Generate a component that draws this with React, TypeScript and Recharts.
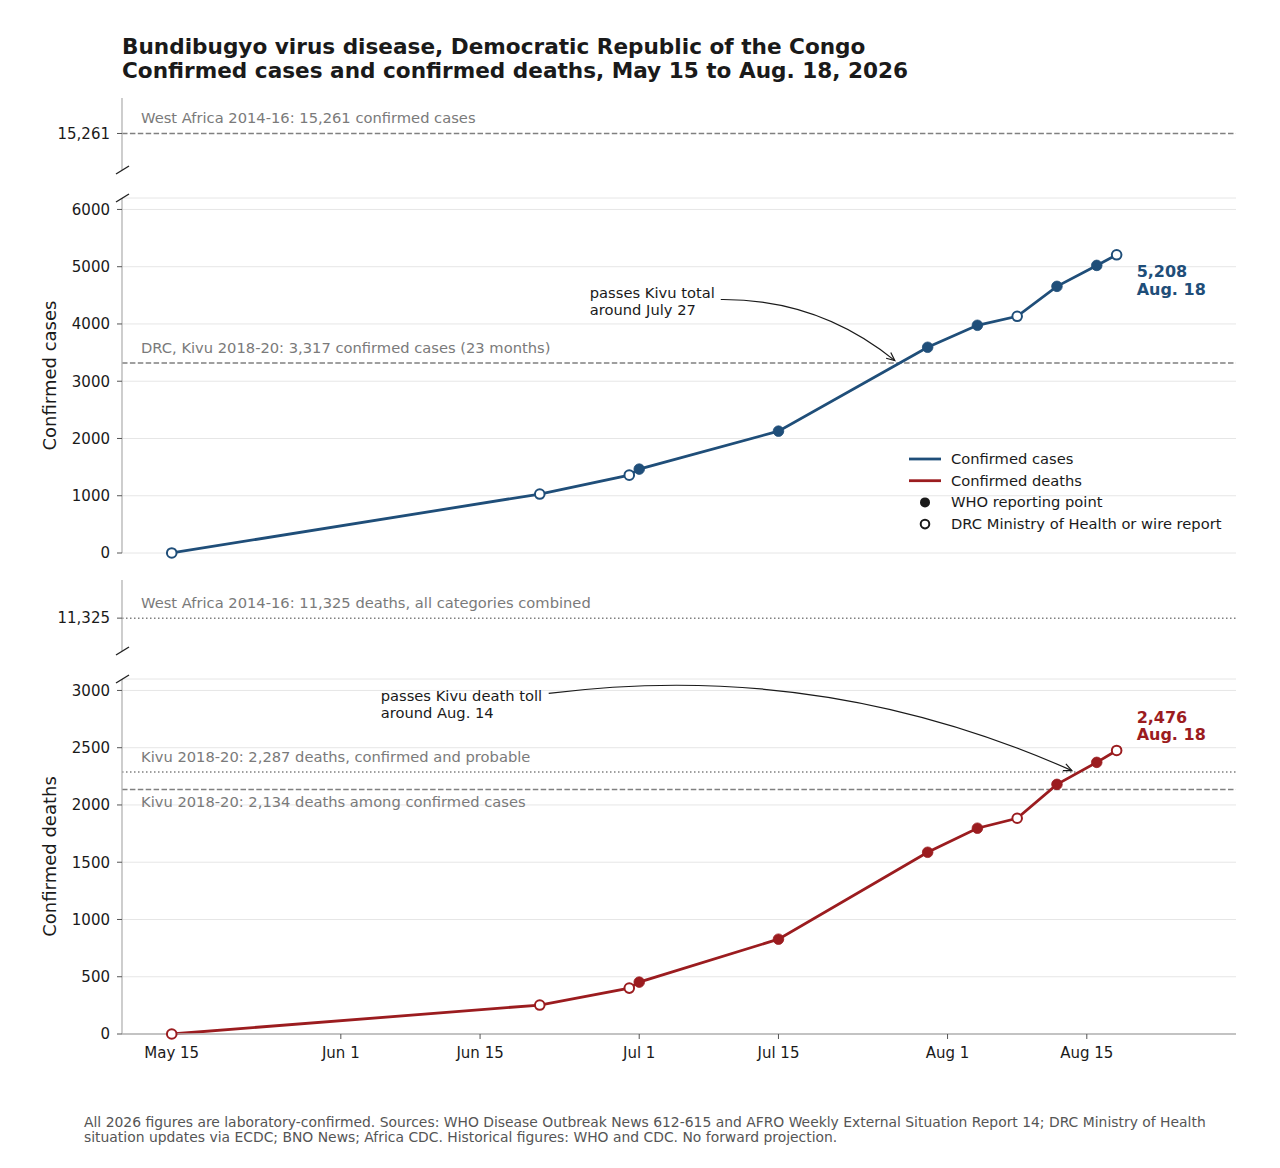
import React from 'react';
import {
  LineChart,
  Line,
  XAxis,
  YAxis,
  CartesianGrid,
  ReferenceLine,
  ReferenceDot,
  Legend,
} from 'recharts';

// ---------- data ----------
const DAYS = [0, 37, 46, 47, 61, 76, 81, 85, 89, 93, 95]; // days since May 15
const CASES = [1, 1030, 1360, 1465, 2128, 3593, 3977, 4134, 4657, 5023, 5208];
const DEATHS = [0, 253, 401, 453, 828, 1587, 1797, 1884, 2180, 2372, 2476];
const SOURCE = ['DRC', 'DRC', 'DRC', 'WHO', 'WHO', 'WHO', 'WHO', 'DRC', 'WHO', 'WHO', 'DRC'];
const END_DATE_LABEL = 'Aug. 18';

const X_DOMAIN = [-5, 107];
const X_TICKS = [0, 17, 31, 47, 61, 78, 92];
const X_TICK_LABELS = ['May 15', 'Jun 1', 'Jun 15', 'Jul 1', 'Jul 15', 'Aug 1', 'Aug 15'];

const CASE_DOMAIN = [0, 6200];
const CASE_TICKS = [0, 1000, 2000, 3000, 4000, 5000, 6000];
const DEATH_DOMAIN = [0, 3100];
const DEATH_TICKS = [0, 500, 1000, 1500, 2000, 2500, 3000];
const CASE_STRIP_DOMAIN = [14500, 16000];
const DEATH_STRIP_DOMAIN = [10700, 12050];

const WEST_AFRICA_CASES = 15261;
const KIVU_CASES = 3317;
const WEST_AFRICA_DEATHS = 11325;
const KIVU_DEATHS_ALL = 2287;
const KIVU_DEATHS_CONFIRMED = 2134;

// annotation anchors (data coordinates)
const CASE_ARROW = [{ x: 55.2, y: 4427 }, { x: 72.7, y: 3360 }];
const DEATH_ARROW = [{ x: 37.9, y: 2974 }, { x: 90.5, y: 2300 }];

const LEGEND_ITEMS = [
  { label: 'Confirmed cases', kind: 'line', color: '#1f4e79' },
  { label: 'Confirmed deaths', kind: 'line', color: '#9b1c1f' },
  { label: 'WHO reporting point', kind: 'filled', color: '#1a1a1a' },
  { label: 'DRC Ministry of Health or wire report', kind: 'open', color: '#1a1a1a' },
];

const ROWS = DAYS.map((d, i) => ({ day: d, cases: CASES[i], deaths: DEATHS[i], src: SOURCE[i] }));

// ---------- style ----------
const FONT = '"DejaVu Sans", Verdana, sans-serif';
const BLUE = '#1f4e79';
const RED = '#9b1c1f';
const GRAY = '#7a7a7a';
const REFLINE = '#808080';
const SPINE = '#b3b3b3';
const GRID = '#e6e6e6';
const INK = '#1a1a1a';
const W = 1280;
const MARGIN_R = 44;
const YAXIS_W = 122;
const NOTE_SIZE = 14.7;

const fmt = (v: number) => v.toLocaleString('en-US');
const tickStyle = { fontSize: 15, fill: INK, fontFamily: FONT };

const refLabel = (text: string, below = false) => (props: any) => {
  const vb = props.viewBox || {};
  return (
    <text x={vb.x + 19} y={vb.y + (below ? 17.5 : -10)} fill={GRAY} fontSize={NOTE_SIZE} fontFamily={FONT}>
      {text}
    </text>
  );
};

const yLabel = (text: string) => (props: any) => {
  const vb = props.viewBox || {};
  const x = vb.x + 56;
  const y = vb.y + vb.height / 2;
  return (
    <text x={x} y={y} transform={`rotate(-90 ${x} ${y})`} textAnchor="middle" fontSize={18} fill={INK} fontFamily={FONT}>
      {text}
    </text>
  );
};

const BreakMark = (props: any) => {
  const { cx, cy } = props;
  if (cx == null || cy == null) return <g />;
  return <line x1={cx - 6} y1={cy + 4} x2={cx + 7} y2={cy - 4} stroke="#222" strokeWidth={1.4} />;
};

const makeDot = (color: string) => (props: any) => {
  const { cx, cy, index } = props;
  if (cx == null || cy == null) return <g key={`d${index}`} />;
  if (SOURCE[index] === 'WHO') {
    return <circle key={`d${index}`} cx={cx} cy={cy} r={5.3} fill={color} stroke={color} strokeWidth={0.8} />;
  }
  return <circle key={`d${index}`} cx={cx} cy={cy} r={4.8} fill="#fff" stroke={color} strokeWidth={2} />;
};

const endLabel = (value: string, date: string, color: string, dy1: number, dy2: number) => (props: any) => {
  const { cx, cy } = props;
  if (cx == null || cy == null) return <g />;
  return (
    <g>
      <text x={cx + 20} y={cy + dy1} fill={color} fontWeight="bold" fontSize={16} fontFamily={FONT}>{value}</text>
      <text x={cx + 20} y={cy + dy2} fill={color} fontWeight="bold" fontSize={16} fontFamily={FONT}>{date}</text>
    </g>
  );
};

const arrowShape = (lines: string[], rad: number, tx: number, ty: number[]) => (props: any) => {
  const { x1, y1, x2, y2 } = props;
  if ([x1, y1, x2, y2].some((v) => v == null || isNaN(v))) return <g />;
  const mx = (x1 + x2) / 2;
  const my = (y1 + y2) / 2;
  const cx = mx + rad * (y2 - y1);
  const cy = my - rad * (x2 - x1);
  const ang = Math.atan2(y2 - cy, x2 - cx);
  const L = 9;
  const a = 0.42;
  const h1x = x2 - L * Math.cos(ang - a);
  const h1y = y2 - L * Math.sin(ang - a);
  const h2x = x2 - L * Math.cos(ang + a);
  const h2y = y2 - L * Math.sin(ang + a);
  return (
    <g>
      <path d={`M${x1},${y1} Q${cx},${cy} ${x2},${y2}`} fill="none" stroke={INK} strokeWidth={1.2} />
      <path d={`M${h1x},${h1y} L${x2},${y2} L${h2x},${h2y}`} fill="none" stroke={INK} strokeWidth={1.2} />
      {lines.map((t, i) => (
        <text key={i} x={x1 + tx} y={y1 + ty[i]} fill={INK} fontSize={NOTE_SIZE} fontFamily={FONT}>{t}</text>
      ))}
    </g>
  );
};

const LegendBox = () => (
  <svg width={340} height={95} style={{ overflow: 'visible', display: 'block' }}>
    {LEGEND_ITEMS.map((it, i) => {
      const y = 14 + i * 21.7;
      return (
        <g key={it.label}>
          {it.kind === 'line' && <line x1={9} x2={41} y1={y} y2={y} stroke={it.color} strokeWidth={2.8} />}
          {it.kind === 'filled' && <circle cx={25} cy={y} r={5} fill={it.color} />}
          {it.kind === 'open' && <circle cx={25} cy={y} r={4.3} fill="#fff" stroke={it.color} strokeWidth={2} />}
          <text x={51} y={y + 5} fontSize={NOTE_SIZE} fill={INK} fontFamily={FONT}>{it.label}</text>
        </g>
      );
    })}
  </svg>
);

const abs = (top: number, height: number): React.CSSProperties => ({
  position: 'absolute',
  left: 0,
  top,
  width: W,
  height,
});

export default function App() {
  const last = ROWS.length - 1;
  return (
    <div style={{ position: 'absolute', left: 0, top: 0, width: 1280, height: 1168, background: '#fff', overflow: 'hidden' }}>
      <svg width={1280} height={1168} style={{ position: 'absolute', left: 0, top: 0 }}>
        <text x={122} y={53.5} fontSize={21.6} fontWeight="bold" fill={INK} fontFamily={FONT}>
          Bundibugyo virus disease, Democratic Republic of the Congo
        </text>
        <text x={122} y={77.5} fontSize={21.6} fontWeight="bold" fill={INK} fontFamily={FONT}>
          Confirmed cases and confirmed deaths, May 15 to Aug. 18, 2026
        </text>
        <text x={84} y={1127} fontSize={13.9} fill="#555" fontFamily={FONT}>
          All 2026 figures are laboratory-confirmed. Sources: WHO Disease Outbreak News 612-615 and AFRO Weekly External Situation Report 14; DRC Ministry of Health
        </text>
        <text x={84} y={1142} fontSize={13.9} fill="#555" fontFamily={FONT}>
          situation updates via ECDC; BNO News; Africa CDC. Historical figures: WHO and CDC. No forward projection.
        </text>
      </svg>

      {/* Cases: upper strip */}
      <div style={abs(90, 90)}>
        <LineChart width={W} height={90} data={ROWS} margin={{ top: 8, right: MARGIN_R, bottom: 10, left: 0 }}>
          <XAxis dataKey="day" type="number" domain={X_DOMAIN} hide allowDataOverflow />
          <YAxis
            type="number"
            domain={CASE_STRIP_DOMAIN}
            allowDataOverflow
            ticks={[WEST_AFRICA_CASES]}
            tickFormatter={fmt}
            width={YAXIS_W}
            tick={tickStyle}
            tickSize={5}
            tickMargin={7}
            axisLine={{ stroke: SPINE, strokeWidth: 1.3 }}
            tickLine={{ stroke: '#555' }}
          />
          <ReferenceLine
            y={WEST_AFRICA_CASES}
            stroke={REFLINE}
            strokeWidth={1.5}
            strokeDasharray="5.5 2.4"
            label={refLabel('West Africa 2014-16: 15,261 confirmed cases')}
          />
          <ReferenceDot x={X_DOMAIN[0]} y={CASE_STRIP_DOMAIN[0]} r={0} ifOverflow="visible" shape={BreakMark} />
        </LineChart>
      </div>

      {/* Cases: main panel */}
      <div style={abs(180, 400)}>
        <LineChart width={W} height={400} data={ROWS} margin={{ top: 18, right: MARGIN_R, bottom: 27, left: 0 }}>
          <CartesianGrid vertical={false} stroke={GRID} strokeWidth={1} />
          <XAxis
            dataKey="day"
            type="number"
            domain={X_DOMAIN}
            ticks={X_TICKS}
            tick={false}
            tickLine={false}
            height={0}
            axisLine={{ stroke: SPINE, strokeWidth: 1.3 }}
          />
          <YAxis
            type="number"
            domain={CASE_DOMAIN}
            ticks={CASE_TICKS}
            interval={0}
            width={YAXIS_W}
            tick={tickStyle}
            tickSize={5}
            tickMargin={7}
            axisLine={{ stroke: SPINE, strokeWidth: 1.3 }}
            tickLine={{ stroke: '#555' }}
            label={yLabel('Confirmed cases')}
          />
          <ReferenceLine
            y={KIVU_CASES}
            stroke={REFLINE}
            strokeWidth={1.5}
            strokeDasharray="5.5 2.4"
            label={refLabel('DRC, Kivu 2018-20: 3,317 confirmed cases (23 months)')}
          />
          <Line
            type="linear"
            dataKey="cases"
            stroke={BLUE}
            strokeWidth={2.8}
            dot={makeDot(BLUE)}
            activeDot={false}
            isAnimationActive={false}
          />
          <ReferenceLine
            segment={CASE_ARROW}
            ifOverflow="visible"
            shape={arrowShape(['passes Kivu total', 'around July 27'], 0.18, -131, [-1.5, 15.5])}
          />
          <ReferenceDot
            x={DAYS[last]}
            y={CASES[last]}
            r={0}
            ifOverflow="visible"
            shape={endLabel(fmt(CASES[last]), END_DATE_LABEL, BLUE, 22, 40)}
          />
          <ReferenceDot x={X_DOMAIN[0]} y={CASE_DOMAIN[1]} r={0} ifOverflow="visible" shape={BreakMark} />
          <Legend
            layout="vertical"
            align="center"
            verticalAlign="middle"
            content={() => <LegendBox />}
            wrapperStyle={{ position: 'absolute', left: 900, top: 265, width: 340, height: 95 }}
          />
        </LineChart>
      </div>

      {/* Deaths: upper strip */}
      <div style={abs(570, 90)}>
        <LineChart width={W} height={90} data={ROWS} margin={{ top: 10, right: MARGIN_R, bottom: 9, left: 0 }}>
          <XAxis dataKey="day" type="number" domain={X_DOMAIN} hide allowDataOverflow />
          <YAxis
            type="number"
            domain={DEATH_STRIP_DOMAIN}
            allowDataOverflow
            ticks={[WEST_AFRICA_DEATHS]}
            tickFormatter={fmt}
            width={YAXIS_W}
            tick={tickStyle}
            tickSize={5}
            tickMargin={7}
            axisLine={{ stroke: SPINE, strokeWidth: 1.3 }}
            tickLine={{ stroke: '#555' }}
          />
          <ReferenceLine
            y={WEST_AFRICA_DEATHS}
            stroke={REFLINE}
            strokeWidth={1.5}
            strokeDasharray="1.5 2.5"
            label={refLabel('West Africa 2014-16: 11,325 deaths, all categories combined')}
          />
          <ReferenceDot x={X_DOMAIN[0]} y={DEATH_STRIP_DOMAIN[0]} r={0} ifOverflow="visible" shape={BreakMark} />
        </LineChart>
      </div>

      {/* Deaths: main panel */}
      <div style={abs(660, 420)}>
        <LineChart width={W} height={420} data={ROWS} margin={{ top: 19, right: MARGIN_R, bottom: 10, left: 0 }}>
          <CartesianGrid vertical={false} stroke={GRID} strokeWidth={1} />
          <XAxis
            dataKey="day"
            type="number"
            domain={X_DOMAIN}
            ticks={X_TICKS}
            interval={0}
            height={36}
            tickFormatter={(v: number) => X_TICK_LABELS[X_TICKS.indexOf(v)] ?? ''}
            tick={tickStyle}
            tickSize={5}
            tickMargin={8}
            axisLine={{ stroke: SPINE, strokeWidth: 1.3 }}
            tickLine={{ stroke: '#555' }}
          />
          <YAxis
            type="number"
            domain={DEATH_DOMAIN}
            ticks={DEATH_TICKS}
            interval={0}
            width={YAXIS_W}
            tick={tickStyle}
            tickSize={5}
            tickMargin={7}
            axisLine={{ stroke: SPINE, strokeWidth: 1.3 }}
            tickLine={{ stroke: '#555' }}
            label={yLabel('Confirmed deaths')}
          />
          <ReferenceLine
            y={KIVU_DEATHS_ALL}
            stroke={REFLINE}
            strokeWidth={1.5}
            strokeDasharray="1.5 2.5"
            label={refLabel('Kivu 2018-20: 2,287 deaths, confirmed and probable')}
          />
          <ReferenceLine
            y={KIVU_DEATHS_CONFIRMED}
            stroke={REFLINE}
            strokeWidth={1.5}
            strokeDasharray="5.5 2.4"
            label={refLabel('Kivu 2018-20: 2,134 deaths among confirmed cases', true)}
          />
          <Line
            type="linear"
            dataKey="deaths"
            stroke={RED}
            strokeWidth={2.8}
            dot={makeDot(RED)}
            activeDot={false}
            isAnimationActive={false}
          />
          <ReferenceLine
            segment={DEATH_ARROW}
            ifOverflow="visible"
            shape={arrowShape(['passes Kivu death toll', 'around Aug. 14'], 0.14, -168, [8, 25])}
          />
          <ReferenceDot
            x={DAYS[last]}
            y={DEATHS[last]}
            r={0}
            ifOverflow="visible"
            shape={endLabel(fmt(DEATHS[last]), END_DATE_LABEL, RED, -27, -10)}
          />
          <ReferenceDot x={X_DOMAIN[0]} y={DEATH_DOMAIN[1]} r={0} ifOverflow="visible" shape={BreakMark} />
        </LineChart>
      </div>
    </div>
  );
}
